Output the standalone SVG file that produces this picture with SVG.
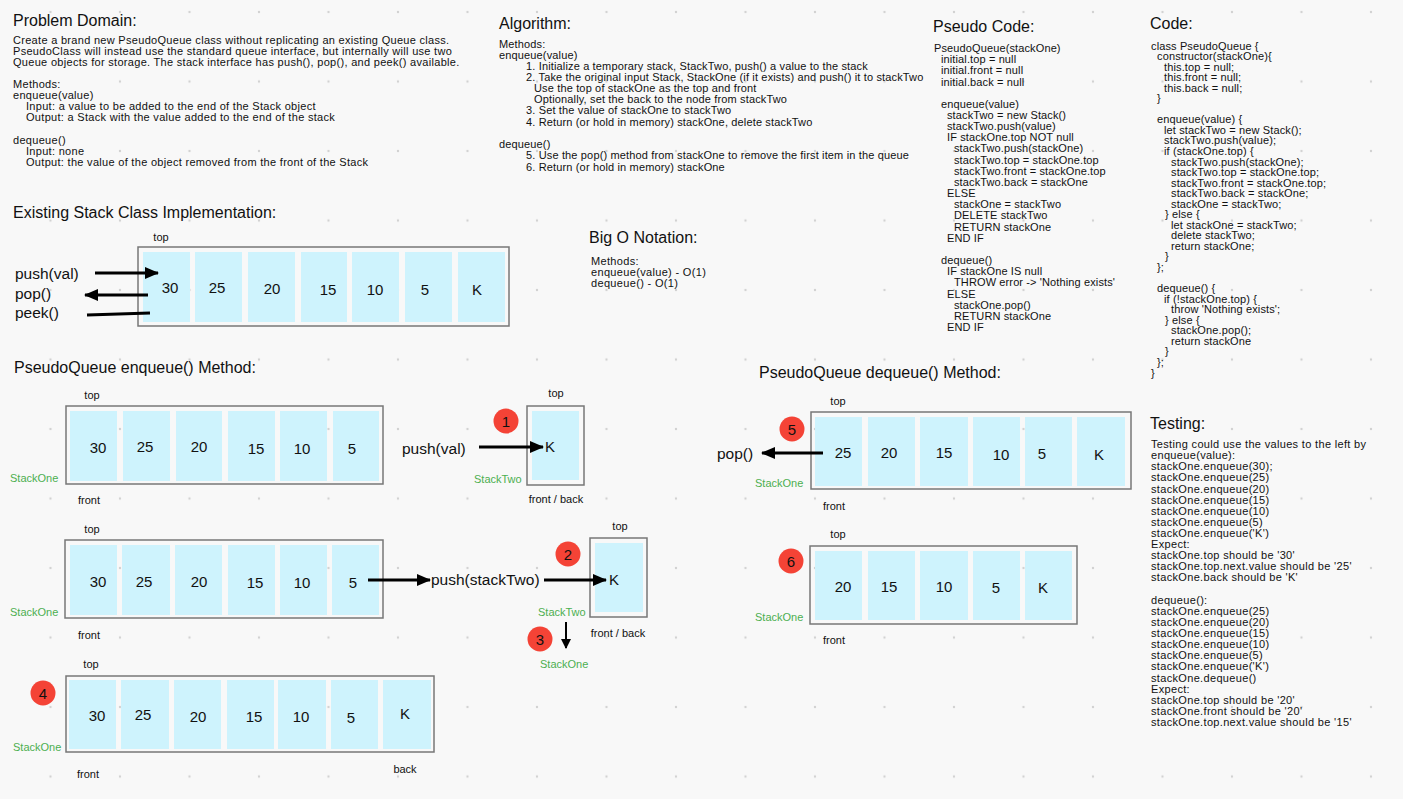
<svg xmlns="http://www.w3.org/2000/svg" width="1403" height="799" viewBox="0 0 1403 799">
<style>
text{font-family:"Liberation Sans",Arial,Helvetica,sans-serif;fill:#111}
.h{font-size:16px}
.b{font-size:11px}
.c{font-size:11px;letter-spacing:0.13px}
.pd{letter-spacing:0.3px}
.al{letter-spacing:0.15px}
.ps{letter-spacing:0.12px}
.ts{letter-spacing:0.33px}
.lbl{font-size:11px;text-anchor:middle}
.g{font-size:11px;fill:#4caf50}
.n{font-size:15px;text-anchor:middle}
.op{font-size:15.5px}
.box{fill:none;stroke:#777;stroke-width:1.5}
.cell{fill:#cef3fd}
.badge{fill:#f44336}
.ar{stroke:#000;stroke-width:3;fill:none}
.ar2{stroke:#000;stroke-width:2;fill:none}
</style>
<defs>
<pattern id="grid" x="15.75" y="-22.75" width="69.5" height="69.5" patternUnits="userSpaceOnUse">
<circle cx="34.75" cy="34.75" r="1.2" fill="#d2d2d2"/>
</pattern>
<marker id="ah" markerUnits="userSpaceOnUse" markerWidth="14" markerHeight="12" refX="13" refY="6" orient="auto">
<path d="M0,0 L14,6 L0,12 z" fill="#000"/>
</marker>
<marker id="ahs" markerUnits="userSpaceOnUse" markerWidth="10" markerHeight="10" refX="9" refY="5" orient="auto">
<path d="M0,0 L10,5 L0,10 z" fill="#000"/>
</marker>
</defs>
<rect width="1403" height="799" fill="#f8f8f8"/>
<rect width="1403" height="799" fill="url(#grid)"/>

<g id="problem-domain">
<text class="h" x="13" y="26">Problem Domain:</text>
<text class="b pd">
<tspan x="13" y="44">Create a brand new PseudoQueue class without replicating an existing Queue class.</tspan>
<tspan x="13" y="55">PseudoClass will instead use the standard queue interface, but internally will use two</tspan>
<tspan x="13" y="66">Queue objects for storage. The stack interface has push(), pop(), and peek() available.</tspan>
<tspan x="13" y="88">Methods:</tspan>
<tspan x="13" y="99">enqueue(value)</tspan>
<tspan x="26" y="110">Input: a value to be added to the end of the Stack object</tspan>
<tspan x="26" y="121">Output: a Stack with the value added to the end of the stack</tspan>
<tspan x="13" y="144">dequeue()</tspan>
<tspan x="26" y="155">Input: none</tspan>
<tspan x="26" y="166">Output: the value of the object removed from the front of the Stack</tspan>
</text>
</g>

<g id="algorithm">
<text class="h" x="499" y="29">Algorithm:</text>
<text class="b al">
<tspan x="499" y="48">Methods:</tspan>
<tspan x="499" y="59">enqueue(value)</tspan>
<tspan x="526" y="70">1. Initialize a temporary stack, StackTwo, push() a value to the stack</tspan>
<tspan x="526" y="81">2. Take the original input Stack, StackOne (if it exists) and push() it to stackTwo</tspan>
<tspan x="534" y="92">Use the top of stackOne as the top and front</tspan>
<tspan x="534" y="103">Optionally, set the back to the node from stackTwo</tspan>
<tspan x="526" y="114">3. Set the value of stackOne to stackTwo</tspan>
<tspan x="526" y="126">4. Return (or hold in memory) stackOne, delete stackTwo</tspan>
<tspan x="499" y="148">dequeue()</tspan>
<tspan x="526" y="159">5. Use the pop() method from stackOne to remove the first item in the queue</tspan>
<tspan x="526" y="171">6. Return (or hold in memory) stackOne</tspan>
</text>
</g>

<g id="pseudo-code">
<text class="h" x="933" y="32">Pseudo Code:</text>
<text class="b ps">
<tspan x="934" y="52">PseudoQueue(stackOne)</tspan>
<tspan x="941" y="63.2">initial.top = null</tspan>
<tspan x="941" y="74.3">initial.front = null</tspan>
<tspan x="941" y="85.5">initial.back = null</tspan>
<tspan x="941" y="107.8">enqueue(value)</tspan>
<tspan x="947" y="119">stackTwo = new Stack()</tspan>
<tspan x="947" y="130.1">stackTwo.push(value)</tspan>
<tspan x="947" y="141.3">IF stackOne.top NOT null</tspan>
<tspan x="954" y="152.4">stackTwo.push(stackOne)</tspan>
<tspan x="954" y="163.6">stackTwo.top = stackOne.top</tspan>
<tspan x="954" y="174.8">stackTwo.front = stackOne.top</tspan>
<tspan x="954" y="185.9">stackTwo.back = stackOne</tspan>
<tspan x="947" y="197.1">ELSE</tspan>
<tspan x="954" y="208.2">stackOne = stackTwo</tspan>
<tspan x="954" y="219.4">DELETE stackTwo</tspan>
<tspan x="954" y="230.6">RETURN stackOne</tspan>
<tspan x="947" y="241.7">END IF</tspan>
<tspan x="941" y="264">dequeue()</tspan>
<tspan x="947" y="275.2">IF stackOne IS null</tspan>
<tspan x="954" y="286.4">THROW error -&gt; 'Nothing exists'</tspan>
<tspan x="947" y="297.5">ELSE</tspan>
<tspan x="954" y="308.7">stackOne.pop()</tspan>
<tspan x="954" y="319.8">RETURN stackOne</tspan>
<tspan x="947" y="331">END IF</tspan>
</text>
</g>

<g id="code">
<text class="h" x="1150" y="29">Code:</text>
<text class="c">
<tspan x="1151" y="49.5">class PseudoQueue {</tspan>
<tspan x="1157" y="60">constructor(stackOne){</tspan>
<tspan x="1164" y="70.6">this.top = null;</tspan>
<tspan x="1164" y="81.1">this.front = null;</tspan>
<tspan x="1164" y="91.7">this.back = null;</tspan>
<tspan x="1157" y="102.2">}</tspan>
<tspan x="1157" y="123.3">enqueue(value) {</tspan>
<tspan x="1164" y="133.8">let stackTwo = new Stack();</tspan>
<tspan x="1164" y="144.4">stackTwo.push(value);</tspan>
<tspan x="1164" y="155">if (stackOne.top) {</tspan>
<tspan x="1171" y="165.5">stackTwo.push(stackOne);</tspan>
<tspan x="1171" y="176">stackTwo.top = stackOne.top;</tspan>
<tspan x="1171" y="186.6">stackTwo.front = stackOne.top;</tspan>
<tspan x="1171" y="197.1">stackTwo.back = stackOne;</tspan>
<tspan x="1171" y="207.7">stackOne = stackTwo;</tspan>
<tspan x="1165" y="218.2">} else {</tspan>
<tspan x="1171" y="228.8">let stackOne = stackTwo;</tspan>
<tspan x="1171" y="239.3">delete stackTwo;</tspan>
<tspan x="1171" y="249.9">return stackOne;</tspan>
<tspan x="1165" y="260.4">}</tspan>
<tspan x="1157" y="271">};</tspan>
<tspan x="1157" y="292.1">dequeue() {</tspan>
<tspan x="1164" y="302.6">if (!stackOne.top) {</tspan>
<tspan x="1171" y="313.2">throw 'Nothing exists';</tspan>
<tspan x="1165" y="323.7">} else {</tspan>
<tspan x="1171" y="334.3">stackOne.pop();</tspan>
<tspan x="1171" y="344.8">return stackOne</tspan>
<tspan x="1165" y="355.4">}</tspan>
<tspan x="1157" y="365.9">};</tspan>
<tspan x="1151" y="376.5">}</tspan>
</text>
</g>

<g id="testing">
<text class="h" x="1150" y="429">Testing:</text>
<text class="b ts">
<tspan x="1151" y="448">Testing could use the values to the left by</tspan>
<tspan x="1151" y="459.1">enqueue(value):</tspan>
<tspan x="1151" y="470.2">stackOne.enqueue(30);</tspan>
<tspan x="1151" y="481.4">stackOne.enqueue(25)</tspan>
<tspan x="1151" y="492.5">stackOne.enqueue(20)</tspan>
<tspan x="1151" y="503.6">stackOne.enqueue(15)</tspan>
<tspan x="1151" y="514.7">stackOne.enqueue(10)</tspan>
<tspan x="1151" y="525.8">stackOne.enqueue(5)</tspan>
<tspan x="1151" y="537">stackOne.enqueue('K')</tspan>
<tspan x="1151" y="548.1">Expect:</tspan>
<tspan x="1151" y="559.2">stackOne.top should be '30'</tspan>
<tspan x="1151" y="570.3">stackOne.top.next.value should be '25'</tspan>
<tspan x="1151" y="581.4">stackOne.back should be 'K'</tspan>
<tspan x="1151" y="603.7">dequeue():</tspan>
<tspan x="1151" y="614.8">stackOne.enqueue(25)</tspan>
<tspan x="1151" y="625.9">stackOne.enqueue(20)</tspan>
<tspan x="1151" y="637">stackOne.enqueue(15)</tspan>
<tspan x="1151" y="648.2">stackOne.enqueue(10)</tspan>
<tspan x="1151" y="659.3">stackOne.enqueue(5)</tspan>
<tspan x="1151" y="670.4">stackOne.enqueue('K')</tspan>
<tspan x="1151" y="681.5">stackOne.dequeue()</tspan>
<tspan x="1151" y="692.6">Expect:</tspan>
<tspan x="1151" y="703.8">stackOne.top should be '20'</tspan>
<tspan x="1151" y="714.9">stackOne.front should be '20'</tspan>
<tspan x="1151" y="726">stackOne.top.next.value should be '15'</tspan>
</text>
</g>

<g id="big-o">
<text class="h" x="589" y="243">Big O Notation:</text>
<text class="b ts">
<tspan x="591" y="265">Methods:</tspan>
<tspan x="591" y="275.8">enqueue(value) - O(1)</tspan>
<tspan x="591" y="286.6">dequeue() - O(1)</tspan>
</text>
</g>

<g id="existing-stack">
<text class="h" x="13" y="218">Existing Stack Class Implementation:</text>
<text class="lbl" x="161" y="241">top</text>
<rect class="box" x="138" y="247" width="371" height="79"/>
<rect class="cell" x="143" y="252" width="47" height="70"/>
<rect class="cell" x="195" y="252" width="47" height="70"/>
<rect class="cell" x="248" y="252" width="47" height="70"/>
<rect class="cell" x="301" y="252" width="46" height="70"/>
<rect class="cell" x="352" y="252" width="47" height="70"/>
<rect class="cell" x="405" y="252" width="47" height="70"/>
<rect class="cell" x="458" y="252" width="47" height="70"/>
<text class="n" x="170" y="293">30</text>
<text class="n" x="217" y="293">25</text>
<text class="n" x="272" y="294">20</text>
<text class="n" x="328" y="295">15</text>
<text class="n" x="375" y="295">10</text>
<text class="n" x="425" y="295">5</text>
<text class="n" x="477" y="295">K</text>
<text class="op" x="15" y="279">push(val)</text>
<text class="op" x="15" y="299">pop()</text>
<text class="op" x="15" y="318">peek()</text>
</g>

<g id="enqueue-title">
<text class="h" x="14" y="373">PseudoQueue enqueue() Method:</text>
</g>

<g id="enqueue-stackone-1">
<text class="lbl" x="92" y="399">top</text>
<rect class="box" x="66" y="406" width="317" height="78"/>
<rect class="cell" x="70" y="411" width="47" height="70"/>
<rect class="cell" x="123" y="411" width="47" height="70"/>
<rect class="cell" x="176" y="411" width="46" height="70"/>
<rect class="cell" x="228" y="411" width="47" height="70"/>
<rect class="cell" x="280" y="411" width="47" height="70"/>
<rect class="cell" x="333" y="411" width="46" height="70"/>
<text class="n" x="98" y="453">30</text>
<text class="n" x="145" y="452">25</text>
<text class="n" x="199" y="452">20</text>
<text class="n" x="256" y="454">15</text>
<text class="n" x="302" y="454">10</text>
<text class="n" x="352" y="454">5</text>
<text class="g" x="10" y="482">StackOne</text>
<text class="lbl" x="89" y="504">front</text>
</g>

<g id="enqueue-stacktwo-1">
<text class="lbl" x="556" y="397">top</text>
<rect class="box" x="527" y="406" width="57" height="79"/>
<rect class="cell" x="532" y="411" width="47" height="69"/>
<text class="n" x="550" y="452">K</text>
<text class="g" x="474" y="483">StackTwo</text>
<text class="lbl" x="556" y="503">front / back</text>
<text class="op" x="402" y="454">push(val)</text>
</g>

<g id="badge-1"><circle class="badge" cx="506" cy="421" r="12.5"/><text class="n" x="506" y="426.5">1</text></g>

<g id="enqueue-stackone-2">
<text class="lbl" x="92" y="533">top</text>
<rect class="box" x="65" y="540" width="318" height="78"/>
<rect class="cell" x="70" y="545" width="47" height="70"/>
<rect class="cell" x="122" y="545" width="48" height="70"/>
<rect class="cell" x="175" y="545" width="47" height="70"/>
<rect class="cell" x="228" y="545" width="47" height="70"/>
<rect class="cell" x="280" y="545" width="47" height="70"/>
<rect class="cell" x="332" y="545" width="47" height="70"/>
<text class="n" x="98" y="587">30</text>
<text class="n" x="144" y="587">25</text>
<text class="n" x="199" y="587">20</text>
<text class="n" x="255" y="588">15</text>
<text class="n" x="302" y="588">10</text>
<text class="n" x="353" y="588">5</text>
<text class="g" x="10" y="616">StackOne</text>
<text class="lbl" x="89" y="639">front</text>
<text class="op" x="431" y="585">push(stackTwo)</text>
</g>

<g id="enqueue-stacktwo-2">
<text class="lbl" x="620" y="530">top</text>
<rect class="box" x="590" y="538" width="57" height="79"/>
<rect class="cell" x="595" y="543" width="48" height="69"/>
<text class="n" x="614" y="585">K</text>
<text class="g" x="538" y="616">StackTwo</text>
<text class="lbl" x="618" y="637">front / back</text>
<text class="g" x="540" y="668">StackOne</text>
</g>

<g id="badge-2"><circle class="badge" cx="568" cy="554" r="12.5"/><text class="n" x="568" y="559.5">2</text></g>
<g id="badge-3"><circle class="badge" cx="540" cy="639" r="12.5"/><text class="n" x="540" y="644.5">3</text></g>

<g id="enqueue-stackone-3">
<text class="lbl" x="91" y="668">top</text>
<rect class="box" x="66" y="676" width="368" height="76"/>
<rect class="cell" x="69" y="680" width="47" height="69"/>
<rect class="cell" x="121" y="680" width="48" height="69"/>
<rect class="cell" x="174" y="680" width="47" height="69"/>
<rect class="cell" x="227" y="680" width="47" height="69"/>
<rect class="cell" x="278" y="680" width="48" height="69"/>
<rect class="cell" x="331" y="680" width="47" height="69"/>
<rect class="cell" x="383" y="680" width="48" height="69"/>
<text class="n" x="97" y="721">30</text>
<text class="n" x="143" y="720">25</text>
<text class="n" x="198" y="722">20</text>
<text class="n" x="254" y="722">15</text>
<text class="n" x="301" y="722">10</text>
<text class="n" x="351" y="723">5</text>
<text class="n" x="405" y="719">K</text>
<text class="g" x="13" y="751">StackOne</text>
<text class="lbl" x="88" y="778">front</text>
<text class="lbl" x="405" y="773">back</text>
</g>

<g id="badge-4"><circle class="badge" cx="43" cy="693" r="12.5"/><text class="n" x="43" y="698.5">4</text></g>

<g id="dequeue-title">
<text class="h" x="759" y="378">PseudoQueue dequeue() Method:</text>
</g>

<g id="dequeue-stackone-5">
<text class="lbl" x="838" y="405">top</text>
<rect class="box" x="811" y="412" width="320" height="77"/>
<rect class="cell" x="815" y="417" width="47" height="69"/>
<rect class="cell" x="868" y="417" width="47" height="69"/>
<rect class="cell" x="920" y="417" width="48" height="69"/>
<rect class="cell" x="973" y="417" width="47" height="69"/>
<rect class="cell" x="1025" y="417" width="47" height="69"/>
<rect class="cell" x="1077" y="417" width="48" height="69"/>
<text class="n" x="843" y="458">25</text>
<text class="n" x="889" y="458">20</text>
<text class="n" x="944" y="458">15</text>
<text class="n" x="1001" y="460">10</text>
<text class="n" x="1042" y="459">5</text>
<text class="n" x="1099" y="460">K</text>
<text class="g" x="755" y="487">StackOne</text>
<text class="lbl" x="834" y="510">front</text>
<text class="op" x="717" y="459">pop()</text>
</g>

<g id="badge-5"><circle class="badge" cx="792" cy="429" r="12.5"/><text class="n" x="792" y="434.5">5</text></g>

<g id="dequeue-stackone-6">
<text class="lbl" x="838" y="538">top</text>
<rect class="box" x="810" y="546" width="267" height="78"/>
<rect class="cell" x="815" y="551" width="47" height="69"/>
<rect class="cell" x="868" y="551" width="47" height="69"/>
<rect class="cell" x="920" y="551" width="48" height="69"/>
<rect class="cell" x="973" y="551" width="47" height="69"/>
<rect class="cell" x="1025" y="551" width="47" height="69"/>
<text class="n" x="843" y="592">20</text>
<text class="n" x="889" y="592">15</text>
<text class="n" x="944" y="592">10</text>
<text class="n" x="996" y="593">5</text>
<text class="n" x="1043" y="593">K</text>
<text class="g" x="755" y="621">StackOne</text>
<text class="lbl" x="834" y="644">front</text>
</g>

<g id="badge-6"><circle class="badge" cx="791" cy="561" r="12.5"/><text class="n" x="791" y="566.5">6</text></g>

<g id="connectors">
<line class="ar" x1="95" y1="273" x2="158" y2="273" marker-end="url(#ah)"/>
<line class="ar" x1="148" y1="295" x2="85" y2="295" marker-end="url(#ah)"/>
<line class="ar" x1="87" y1="315" x2="150" y2="313"/>
<line class="ar" x1="479" y1="447" x2="543" y2="447" marker-end="url(#ah)"/>
<line class="ar" x1="368" y1="580" x2="430" y2="580" marker-end="url(#ah)"/>
<line class="ar" x1="544" y1="580" x2="606" y2="580" marker-end="url(#ah)"/>
<line class="ar2" x1="566" y1="622" x2="566" y2="648" marker-end="url(#ahs)"/>
<line class="ar" x1="823" y1="453" x2="762" y2="453" marker-end="url(#ah)"/>
</g>
</svg>
